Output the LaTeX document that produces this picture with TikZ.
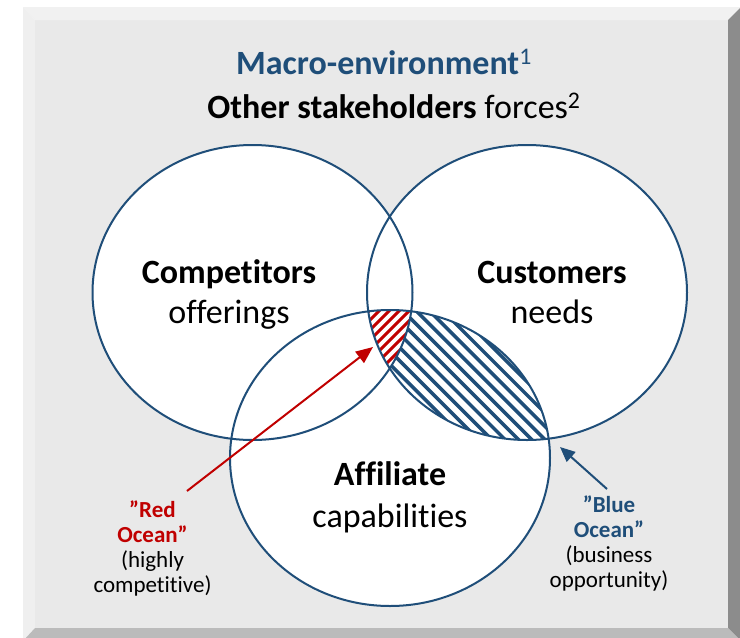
\documentclass[tikz,border=0pt]{standalone}
\usepackage{fontspec}
\setmainfont[Ligatures=NoCommon]{Carlito}
\usetikzlibrary{arrows.meta}
\definecolor{dblue}{HTML}{1F4E79}
\definecolor{dred}{HTML}{C00000}
\definecolor{facecol}{HTML}{E9E9E9}
\definecolor{toplite}{HTML}{F1F1F1}
\definecolor{leftlite}{HTML}{EFEFEF}
\definecolor{rightdark}{HTML}{8C8C8C}
\definecolor{botdark}{HTML}{BBBBBB}
\tikzset{
  ring/.style={draw=dblue, line width=2pt},
  bigtxt/.style={font=\fontsize{34}{40}\selectfont, align=center, inner sep=0pt, anchor=base},
  smalltxt/.style={font=\fontsize{23}{24.7}\selectfont, align=center, inner sep=0pt, anchor=base},
  redarrow/.style={draw=dred, line width=2pt, -{Triangle[length=17pt,width=14pt]}},
  bluearrow/.style={draw=dblue, line width=2pt, -{Triangle[length=15pt,width=13pt]}},
}
\begin{document}
\begin{tikzpicture}[x=1pt,y=-1pt]
\useasboundingbox (0,0) rectangle (740,638);
\begin{scope}
\clip (0,0) rectangle (740,638);
% beveled frame
\fill[facecol] (35,20) rectangle (728,628);
\fill[toplite] (23,7) -- (741,7) -- (728,20) -- (35,20) -- cycle;
\fill[leftlite] (23,7) -- (35,20) -- (35,628) -- (23,641) -- cycle;
\fill[rightdark] (741,7) -- (741,641) -- (728,628) -- (728,20) -- cycle;
\fill[botdark] (23,641) -- (35,628) -- (728,628) -- (741,641) -- cycle;
\end{scope}
% white fills
\fill[white] (252.5,292.5) ellipse [x radius=160pt, y radius=147.5pt];
\fill[white] (527,292.5) ellipse [x radius=160pt, y radius=147.5pt];
\fill[white] (390,458) ellipse [x radius=160pt, y radius=148pt];
% blue hatching: right and bottom, not left
\begin{scope}[even odd rule]
\clip (0,0) rectangle (740,638) (252.5,292.5) ellipse [x radius=160pt, y radius=147.5pt];
\clip (527,292.5) ellipse [x radius=160pt, y radius=147.5pt];
\clip (390,458) ellipse [x radius=160pt, y radius=148pt];
\foreach \c in {-400,-386.7,...,700} {
  \draw[dblue, line width=3.5pt] (\c,0) -- ++(700,700);
}
\end{scope}
% red hatching: all three
\begin{scope}
\clip (252.5,292.5) ellipse [x radius=160pt, y radius=147.5pt];
\clip (527,292.5) ellipse [x radius=160pt, y radius=147.5pt];
\clip (390,458) ellipse [x radius=160pt, y radius=148pt];
\foreach \c in {-400,-390,...,700} {
  \draw[dred, line width=3pt] (\c,700) -- ++(700,-700);
}
\end{scope}
% outlines
\draw[ring] (252.5,292.5) ellipse [x radius=160pt, y radius=147.5pt];
\draw[ring] (527,292.5) ellipse [x radius=160pt, y radius=147.5pt];
\draw[ring] (390,458) ellipse [x radius=160pt, y radius=148pt];
% titles
\node[bigtxt, text=dblue] (macro) at (384,74) {\textbf{Macro-environment}\textsuperscript{1}};
\node[bigtxt] (other) at (394,118) {\textbf{Other stakeholders} forces\textsuperscript{2}};
% circle labels
\node[bigtxt] (comp) at (229,323) {\textbf{Competitors}\\offerings};
\node[bigtxt] (cust) at (552,323) {\textbf{Customers}\\needs};
\node[bigtxt, font=\fontsize{34}{42}\selectfont] (aff) at (390,527) {\textbf{Affiliate}\\capabilities};
% ocean labels
\node[smalltxt] (red) at (152.5,592) {\textcolor{dred}{\textbf{”Red}}\\\textcolor{dred}{\textbf{Ocean”}}\\(highly\\competitive)};
\node[smalltxt] (blue) at (609,587) {\textcolor{dblue}{\textbf{”Blue}}\\\textcolor{dblue}{\textbf{Ocean”}}\\(business\\opportunity)};
% arrows
\coordinate (redtail) at (187,491);
\coordinate (redtip) at (373,347);
\coordinate (bluetail) at (607,489);
\coordinate (bluetip) at (560,447);
\draw[redarrow] (redtail) -- (redtip);
\draw[bluearrow] (bluetail) -- (bluetip);
\end{tikzpicture}
\end{document}
